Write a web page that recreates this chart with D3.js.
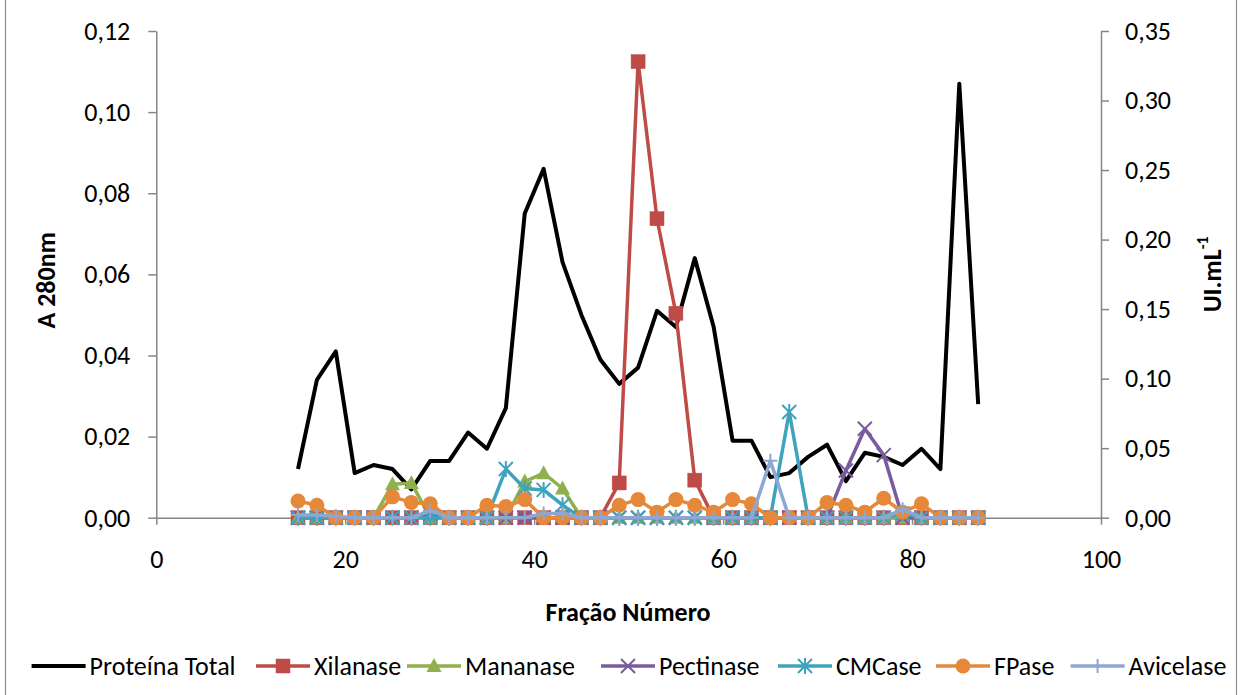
<!DOCTYPE html>
<html>
<head>
<meta charset="utf-8">
<script src="https://cdn.jsdelivr.net/npm/d3@7"></script>
<style>
  html, body { margin: 0; padding: 0; background: #fff; }
  svg { display: block; }
  text { font-family: Carlito, Calibri, Lato, sans-serif; fill: #000; }
</style>
</head>
<body>
<svg id="chart" width="1241" height="695"></svg>
<script>
// ---------- data ----------
const fractions = [15,17,19,21,23,25,27,29,31,33,35,37,39,41,43,45,47,49,51,53,55,57,59,61,63,65,67,69,71,73,75,77,79,81,83,85,87];
const proteinaTotal = [0.012,0.034,0.041,0.011,0.013,0.012,0.007,0.014,0.014,0.021,0.017,0.027,0.075,0.086,0.063,0.050,0.039,0.033,0.037,0.051,0.047,0.064,0.047,0.019,0.019,0.010,0.011,0.015,0.018,0.009,0.016,0.015,0.013,0.017,0.012,0.107,0.028];
const xilanase  = [0,0,0,0,0,0,0,0,0,0,0,0,0,0,0,0,0,0.025,0.328,0.215,0.147,0.027,0,0,0,0,0,0,0,0,0,0,0,0,0,0,0];
const mananase  = [0,0,0,0,0,0.024,0.025,0,0,0,0,0,0.026,0.032,0.021,0,0,0,0,0,0,0,0,0,0,0,0,0,0,0,0,0,0,0,0,0,0];
const pectinase = [0,0,0,0,0,0,0,0.003,0,0,0,0,0,0,0,0,0,0,0,0,0,0,0,0,0,0,0,0,0,0.034,0.064,0.045,0,0,0,0,0];
const cmcase    = [0,0,0,0,0,0,0,0,0,0,0,0.035,0.021,0.020,0.009,0,0,0,0,0,0,0,0,0,0,0,0.076,0,0,0,0,0,0.003,0,0,0,0];
const fpase     = [0.012,0.009,0,0,0,0.015,0.011,0.010,0,0,0.009,0.008,0.013,0,0,0,0,0.009,0.013,0.004,0.013,0.009,0.004,0.013,0.010,0,0,0,0.011,0.009,0.004,0.014,0.004,0.010,0,0,0];
const avicelase = [0.002,0.002,0.001,0,0,0,0,0.005,0,0,0,0,0,0.003,0.003,0,0,0,0,0,0,0,0,0,0,0.041,0,0,0,0,0,0,0.006,0,0,0,0];

const xTicks = [0,20,40,60,80,100];
const yLeftTicks = [0,0.02,0.04,0.06,0.08,0.10,0.12];
const yRightTicks = [0,0.05,0.10,0.15,0.20,0.25,0.30,0.35];

const seriesNames = ["Proteína Total","Xilanase","Mananase","Pectinase","CMCase","FPase","Avicelase"];
const seriesValues = [proteinaTotal, xilanase, mananase, pectinase, cmcase, fpase, avicelase];
const seriesColors = ["#000000","#BE4B48","#8FB04D","#7A5B9E","#3FA3BD","#E5883A","#8EA7D2"];
const seriesMarkers = ["none","square","triangle","x","star","circle","plus"];
const seriesAxis = ["left","right","right","right","right","right","right"];

// ---------- layout ----------
const svg = d3.select("#chart");
const W = 1241, H = 695;
const plot = {left: 156.3, right: 1101, top: 31, bottom: 517.7};

const x = d3.scaleLinear().domain([0,100]).range([plot.left, plot.right]);
const yL = d3.scaleLinear().domain([0,0.12]).range([plot.bottom, plot.top]);
const yR = d3.scaleLinear().domain([0,0.35]).range([plot.bottom, plot.top]);

// chart area border (only left/right visible)
svg.append("rect").attr("x",5.5).attr("y",-5).attr("width",1231).attr("height",H+10)
  .attr("fill","none").attr("stroke","#8c8c8c").attr("stroke-width",1.2);

const fmt = d => d.toFixed(2).replace(".", ",");
const axisColor = "#868686";
const tickFont = 26;

function styleAxis(g) {
  g.selectAll("path.domain").attr("stroke", axisColor).attr("stroke-width", 1.5);
  g.selectAll(".tick line").attr("stroke", axisColor).attr("stroke-width", 1.5);
  g.selectAll(".tick text").attr("font-size", tickFont).attr("fill","#000")
    .style("font-family","Carlito, Calibri, Lato, sans-serif");
}

const gx = svg.append("g").attr("transform", `translate(0,${plot.bottom})`)
  .call(d3.axisBottom(x).tickValues(xTicks).tickFormat(d3.format("d")).tickSize(7).tickSizeOuter(0).tickPadding(25));
styleAxis(gx);

const gl = svg.append("g").attr("transform", `translate(${plot.left},0)`)
  .call(d3.axisLeft(yL).tickValues(yLeftTicks).tickFormat(fmt).tickSize(8).tickSizeOuter(0).tickPadding(18));
styleAxis(gl);

const gr = svg.append("g").attr("transform", `translate(${plot.right},0)`)
  .call(d3.axisRight(yR).tickValues(yRightTicks).tickFormat(fmt).tickSize(8).tickSizeOuter(0).tickPadding(16));
styleAxis(gr);

// axis titles
svg.append("text").attr("transform", `translate(46,${(plot.top+plot.bottom)/2 + 6}) rotate(-90)`)
  .attr("text-anchor","middle").attr("dominant-baseline","central")
  .attr("font-size",26).attr("font-weight","bold").text("A 280nm");

const rt = svg.append("text").attr("transform", `translate(1212,${(plot.top+plot.bottom)/2}) rotate(-90)`)
  .attr("text-anchor","middle").attr("dominant-baseline","central")
  .attr("font-size",26).attr("font-weight","bold");
rt.append("tspan").text("UI.mL");
rt.append("tspan").attr("font-size",16).attr("dy",-10).text("-1");

svg.append("text").attr("x", 628).attr("y", 612)
  .attr("text-anchor","middle").attr("dominant-baseline","central")
  .attr("font-size",26).attr("font-weight","bold").text("Fração Número");

// ---------- markers ----------
function drawMarker(g, type, color, cx, cy) {
  const s = 7;
  if (type === "square") {
    g.append("rect").attr("x",cx-s).attr("y",cy-s).attr("width",2*s).attr("height",2*s)
      .attr("fill",color).attr("stroke",color).attr("stroke-width",0.5);
  } else if (type === "triangle") {
    g.append("path").attr("d",`M${cx},${cy-8} L${cx+7.5},${cy+6} L${cx-7.5},${cy+6} Z`).attr("fill",color);
  } else if (type === "circle") {
    g.append("circle").attr("cx",cx).attr("cy",cy).attr("r",7.5).attr("fill",color);
  } else if (type === "x") {
    g.append("path").attr("d",`M${cx-s},${cy-s} L${cx+s},${cy+s} M${cx-s},${cy+s} L${cx+s},${cy-s}`)
      .attr("stroke",color).attr("stroke-width",2);
  } else if (type === "star") {
    g.append("path").attr("d",`M${cx-s},${cy-s} L${cx+s},${cy+s} M${cx-s},${cy+s} L${cx+s},${cy-s} M${cx},${cy-s-1} L${cx},${cy+s+1}`)
      .attr("stroke",color).attr("stroke-width",2);
  } else if (type === "plus") {
    g.append("path").attr("d",`M${cx-s},${cy} L${cx+s},${cy} M${cx},${cy-s} L${cx},${cy+s}`)
      .attr("stroke",color).attr("stroke-width",2);
  }
}

// ---------- series ----------
seriesValues.forEach((vals, i) => {
  const yS = seriesAxis[i] === "left" ? yL : yR;
  const data = fractions.map((f, k) => ({f, v: vals[k]}));
  const g = svg.append("g");
  g.append("path").datum(data)
    .attr("fill","none").attr("stroke",seriesColors[i])
    .attr("stroke-width", i === 0 ? 4 : 3.5)
    .attr("stroke-linejoin","round")
    .attr("d", d3.line().x(d => x(d.f)).y(d => yS(d.v)));
  if (seriesMarkers[i] !== "none") {
    data.forEach(d => drawMarker(g, seriesMarkers[i], seriesColors[i], x(d.f), yS(d.v)));
  }
});

// ---------- legend ----------
const legendStarts = [31.6, 256, 407, 601, 778, 936, 1070.6];
const legendY = 666;
seriesNames.forEach((name, i) => {
  const g = svg.append("g");
  const x0 = legendStarts[i];
  g.append("line").attr("x1",x0).attr("x2",x0+54).attr("y1",legendY).attr("y2",legendY)
    .attr("stroke",seriesColors[i]).attr("stroke-width", i === 0 ? 4 : 3.5);
  if (seriesMarkers[i] !== "none") drawMarker(g, seriesMarkers[i], seriesColors[i], x0+27, legendY);
  g.append("text").attr("x", x0+58).attr("y", legendY).attr("dominant-baseline","central")
    .attr("font-size",26).text(name);
});
</script>
</body>
</html>
